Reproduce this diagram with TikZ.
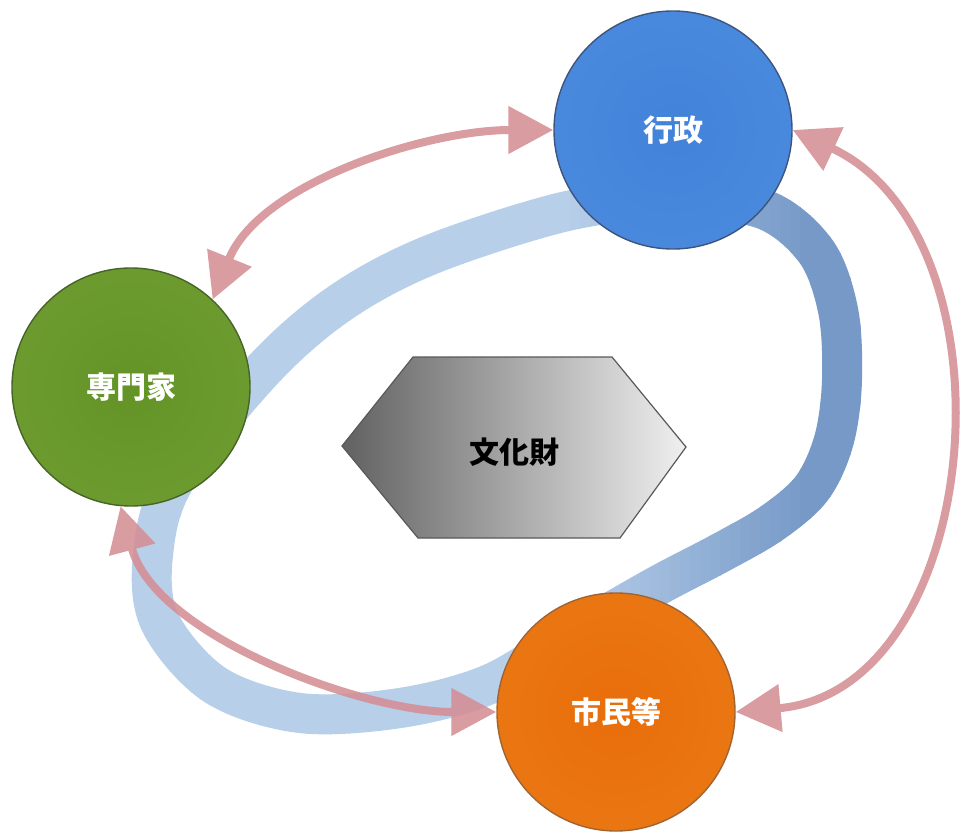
\documentclass[tikz,border=0pt]{standalone}
\usepackage{fontspec}
\newfontfamily\cjk{Noto Sans CJK JP}
\usetikzlibrary{arrows.meta,backgrounds}
\pgfdeclareradialshading{ballblue}{\pgfpoint{0bp}{0bp}}{rgb(0bp)=(0.26,0.51,0.85); rgb(30bp)=(0.29,0.54,0.87); rgb(50bp)=(0.60,0.75,0.93)}
\pgfdeclareradialshading{ballgreen}{\pgfpoint{0bp}{0bp}}{rgb(0bp)=(0.39,0.58,0.15); rgb(30bp)=(0.43,0.61,0.19); rgb(50bp)=(0.66,0.78,0.43)}
\pgfdeclareradialshading{ballorange}{\pgfpoint{0bp}{0bp}}{rgb(0bp)=(0.91,0.43,0.04); rgb(30bp)=(0.92,0.47,0.08); rgb(50bp)=(0.96,0.66,0.36)}
\definecolor{bandL}{RGB}{184,207,234}
\definecolor{bandD}{RGB}{118,153,199}
\definecolor{pinkA}{RGB}{212,142,148}
\begin{document}
\begin{tikzpicture}[x=1pt,y=1pt,
  ball/.style={circle, minimum size=238pt, inner sep=0pt, line width=1.4pt,
    font=\cjk\bfseries\fontsize{30pt}{32pt}\selectfont, text=white},
  pinkarrow/.style={draw=pinkA, line width=8pt,
    {Triangle[length=45pt,width=46pt]}-{Triangle[length=45pt,width=46pt]}},
  label/.style={font=\cjk\bfseries\fontsize{30pt}{32pt}\selectfont}
]
\useasboundingbox (0,0) rectangle (966,-834);

% central hexagon
\shade[left color=black!62, middle color=black!38, right color=black!6, draw=black!65, line width=1.2pt]
  (342,-446) -- (413,-357) -- (612,-357) -- (686,-447) -- (620,-538) -- (418,-538) -- cycle;
\node[label, text=black] (bunka) at (514,-452) {文化財};

% circles
\node[ball, shading=ballblue, draw={rgb,255:red,60;green,85;blue,125}] (gyo) at (673,-130) {行政};
\node[ball, shading=ballgreen, draw={rgb,255:red,70;green,100;blue,40}] (sen) at (131,-387) {専門家};
\node[ball, shading=ballorange, draw={rgb,255:red,160;green,100;blue,50}] (shi) at (616,-712) {市民等};

\begin{pgfonlayer}{background}
% blue ring with horizontal colour gradient
\foreach \i in {0,...,79}{
  \pgfmathtruncatemacro\xx{100+10*\i}
  \pgfmathtruncatemacro\tval{min(100,max(0,(\xx-560)/2.4))}
  \begin{scope}
    \clip (\xx,10) rectangle (\xx+10.6,-840);
    \draw[line width=40pt, color=bandD!\tval!bandL]
      plot[smooth cycle, tension=0.55] coordinates {
        (430,-255) (563,-212) (660,-200) (760,-208) (815,-250) (838,-310)
        (842,-380) (834,-440) (812,-488) (772,-523) (720,-553) (657,-586)
        (570,-636) (490,-684) (400,-708) (300,-713) (215,-685) (160,-622)
        (153,-555) (175,-480) (263,-370) (340,-303)};
  \end{scope}
}
% pink double arrows
\begin{scope}[transparency group, opacity=0.88]
\draw[pinkarrow] (sen.47) to[out=68,in=180,looseness=0.85] (gyo.180);
\draw[pinkarrow] (gyo.0) to[out=-25,in=5,looseness=1.1] (shi.0);
\draw[pinkarrow] (sen.265) to[out=-75,in=180,looseness=0.8] (shi.180);
\end{scope}
\end{pgfonlayer}
\end{tikzpicture}
\end{document}
